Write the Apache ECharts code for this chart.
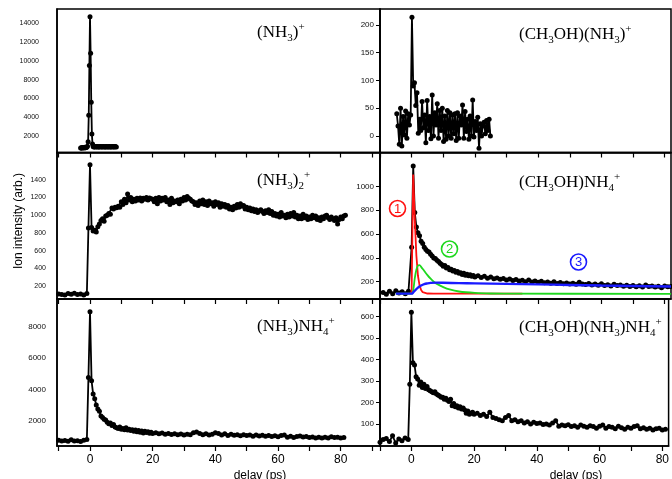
<!DOCTYPE html>
<html><head><meta charset="utf-8">
<script src="https://cdn.jsdelivr.net/npm/echarts@6/dist/echarts.min.js"></script>
<style>html,body{margin:0;padding:0;background:#fff}#c{width:672px;height:479px}</style>
</head><body><div id="c"></div>
<script>
// ---------- data: [delay (ps), ion signal] ----------
const nh3Plus = [[-3,720],[-2.8,760],[-2.6,700],[-2.4,780],[-2.2,740],[-2,770],[-1.8,730],[-1.6,790],[-1.4,760],[-1.2,780],[-1,820],[-0.8,900],[-0.6,1400],[-0.4,4200],[-0.2,9500],[0,14700],[0.2,10800],[0.4,5600],[0.6,2200],[0.8,1150],[1,880],[1.2,840],[1.4,860],[1.6,820],[1.8,870],[2,850],[2.2,830],[2.4,880],[2.6,840],[2.8,860],[3,820],[3.2,850],[3.4,870],[3.6,830],[3.8,860],[4,840],[4.2,880],[4.4,850],[4.6,820],[4.8,860],[5,840],[5.2,870],[5.4,830],[5.6,850],[5.8,860],[6,820],[6.2,870],[6.4,840],[6.6,860],[6.8,830],[7,850],[7.2,880],[7.4,840],[7.6,860],[7.8,830],[8,870],[8.2,850],[8.4,820]];

const ch3ohNh3Plus = [[-4.7,40],[-4.3,18],[-3.9,-15],[-3.5,50],[-3.1,-18],[-2.7,35],[-2.3,2],[-1.9,45],[-1.5,-4],[-1.1,40],[-0.7,20],[-0.3,38],[0.1,214],[0.5,90],[0.9,96],[1.3,55],[1.7,78],[2.1,5],[2.5,30],[2.9,10],[3.3,62],[3.7,15],[4.1,38],[4.5,-12],[4.9,64],[5.3,10],[5.7,35],[6.1,-5],[6.5,74],[6.9,0],[7.3,42],[7.7,20],[8.1,58],[8.5,-4],[8.9,46],[9.3,10],[9.7,50],[10.1,-10],[10.5,36],[10.9,-6],[11.3,46],[11.7,0],[12.1,42],[12.5,-4],[12.9,38],[13.3,4],[13.7,40],[14.1,-8],[14.5,42],[14.9,-4],[15.3,36],[15.7,20],[16.1,56],[16.5,-4],[16.9,44],[17.3,8],[17.7,30],[18.1,-6],[18.5,36],[18.9,0],[19.3,65],[19.7,-2],[20.1,26],[20.5,10],[20.9,34],[21.3,-22],[21.7,22],[22.1,0],[22.5,18],[22.9,25],[23.3,4],[23.7,28],[24.1,10],[24.5,30],[24.9,0]];

const nh3Dimer = [[-10,110],[-9,105],[-8,100],[-7,115],[-6,108],[-5,118],[-4,105],[-3,110],[-2,100],[-1,115],[-0.5,855],[0,1570],[0.5,860],[1,820],[1.5,830],[2,810],[2.5,870],[3,900],[3.5,940],[4,960],[4.5,930],[5,990],[5.5,1000],[6,1020],[6.5,1010],[7,1080],[7.5,1070],[8,1090],[8.5,1085],[9,1100],[9.5,1090],[10,1150],[10.5,1120],[11,1180],[11.5,1140],[12,1240],[12.5,1170],[13,1200],[13.5,1150],[14,1180],[14.5,1160],[15,1190],[15.5,1170],[16,1195],[16.5,1160],[17,1190],[17.5,1180],[18,1200],[18.5,1170],[19,1195],[19.5,1185],[20,1180],[20.5,1150],[21,1190],[21.5,1130],[22,1200],[22.5,1160],[23,1190],[23.5,1170],[24,1200],[24.5,1150],[25,1170],[25.5,1120],[26,1190],[26.5,1140],[27,1160],[27.5,1150],[28,1170],[28.5,1130],[29,1180],[29.5,1160],[30,1200],[30.5,1170],[31,1210],[31.5,1190],[32,1180],[32.5,1160],[33,1150],[33.5,1120],[34,1140],[34.5,1110],[35,1160],[35.5,1130],[36,1170],[36.5,1120],[37,1150],[37.5,1110],[38,1160],[38.5,1130],[39,1140],[39.5,1100],[40,1150],[40.5,1120],[41,1140],[41.5,1090],[42,1130],[42.5,1100],[43,1120],[43.5,1090],[44,1110],[44.5,1070],[45,1090],[45.5,1060],[46,1100],[46.5,1080],[47,1120],[47.5,1090],[48,1130],[48.5,1100],[49,1110],[49.5,1070],[50,1090],[50.5,1060],[51,1080],[51.5,1050],[52,1070],[52.5,1040],[53,1060],[53.5,1030],[54,1050],[54.5,1060],[55,1040],[55.5,1020],[56,1050],[56.5,1030],[57,1060],[57.5,1020],[58,1040],[58.5,1000],[59,1020],[59.5,990],[60,1010],[60.5,980],[61,1030],[61.5,990],[62,1000],[62.5,970],[63,1010],[63.5,980],[64,1020],[64.5,990],[65,1030],[65.5,980],[66,1000],[66.5,960],[67,990],[67.5,960],[68,1010],[68.5,970],[69,990],[69.5,950],[70,980],[70.5,960],[71,1000],[71.5,970],[72,990],[72.5,950],[73,970],[73.5,940],[74,980],[74.5,960],[75,990],[75.5,1000],[76,970],[76.5,950],[77,980],[77.5,960],[78,940],[78.5,970],[79,900],[79.5,950],[80,980],[80.5,960],[81,990],[81.5,1000]];

const ch3ohNh4 = [[-9,110],[-8,95],[-7,120],[-6,100],[-5,125],[-4,105],[-3,115],[-2,100],[-1,120],[0,490],[0.5,1170],[1,780],[1.5,660],[2,610],[2.5,585],[3,540],[3.5,520],[4,490],[4.5,470],[5,455],[5.5,450],[6,430],[6.5,415],[7,400],[7.5,395],[8,380],[8.5,370],[9,355],[9.5,345],[10,330],[10.5,335],[11,315],[11.5,320],[12,300],[12.5,305],[13,290],[13.5,295],[14,280],[14.5,285],[15,270],[15.5,275],[16,260],[16.5,270],[17,255],[17.5,262],[18,250],[18.5,258],[19,245],[19.5,252],[20,240],[21,250],[22,235],[23,245],[24,230],[25,240],[26,225],[27,232],[28,220],[29,228],[30,215],[31,222],[32,210],[33,218],[34,205],[35,212],[36,200],[37,215],[38,198],[39,205],[40,195],[41,203],[42,192],[43,198],[44,188],[45,200],[46,185],[47,193],[48,183],[49,190],[50,180],[51,188],[52,178],[53,195],[54,180],[55,176],[56,185],[57,172],[58,180],[59,170],[60,182],[61,168],[62,175],[63,165],[64,178],[65,168],[66,172],[67,162],[68,170],[69,160],[70,168],[71,158],[72,166],[73,156],[74,172],[75,160],[76,165],[77,155],[78,162],[79,150],[80,165],[81,158],[82,160]];
const fit1 = [[-0.3,100],[0,120],[0.5,1100],[1,720],[1.5,420],[2,250],[2.5,170],[3,130],[3.5,112],[4,105],[5,101],[7,100],[35,100]];
const fit2 = [[-5,100],[0,100],[0.5,130],[1,230],[1.5,300],[2,335],[2.5,340],[3,325],[4,290],[5,255],[6,225],[7,200],[8,182],[10,155],[12,135],[15,118],[20,106],[25,101],[30,100],[82,98]];
const fit3 = [[-5,100],[0,100],[0.5,110],[1,125],[2,150],[3,168],[4,180],[5,186],[6,190],[8,192],[10,191],[15,188],[20,186],[30,182],[40,178],[50,173],[60,168],[70,164],[82,160]];

const nh3Nh4 = [[-10,760],[-9,700],[-8,740],[-7,690],[-6,780],[-5,700],[-4,720],[-3,680],[-2,750],[-1,800],[-0.5,4750],[0,8950],[0.5,4550],[1,3700],[1.5,3400],[2,3000],[2.5,2750],[3,2600],[3.5,2300],[4,2200],[4.5,2100],[5,2050],[5.5,1900],[6,1800],[6.5,1850],[7,1700],[7.5,1750],[8,1600],[8.5,1550],[9,1500],[9.5,1600],[10,1450],[10.5,1500],[11,1420],[11.5,1550],[12,1400],[12.5,1450],[13,1380],[13.5,1420],[14,1330],[14.5,1400],[15,1300],[15.5,1380],[16,1260],[16.5,1340],[17,1220],[17.5,1320],[18,1250],[18.5,1300],[19,1200],[19.5,1260],[20,1180],[21,1230],[22,1160],[23,1210],[24,1140],[25,1190],[26,1120],[27,1170],[28,1100],[29,1150],[30,1080],[31,1140],[32,1100],[33,1230],[34,1280],[35,1180],[36,1100],[37,1160],[38,1080],[39,1130],[40,1230],[41,1180],[42,1090],[43,1160],[44,1060],[45,1130],[46,1070],[47,1110],[48,1040],[49,1110],[50,1060],[51,1080],[52,1010],[53,1080],[54,1030],[55,1070],[56,1000],[57,1050],[58,990],[59,1040],[60,980],[61,1060],[62,1090],[63,950],[64,1010],[65,930],[66,990],[67,1020],[68,960],[69,990],[70,920],[71,960],[72,900],[73,940],[74,890],[75,950],[76,900],[77,970],[78,920],[79,950],[80,890],[81,930]];

const ch3ohNh3Nh4 = [[-10,15],[-9,28],[-8,32],[-7,18],[-6,45],[-5,12],[-4,30],[-3,22],[-2,35],[-1,28],[-0.5,285],[0,620],[0.5,385],[1,375],[1.5,320],[2,310],[2.5,280],[3,295],[3.5,270],[4,285],[4.5,265],[5,275],[5.5,260],[6,255],[6.5,250],[7,245],[7.5,250],[8,240],[8.5,235],[9,230],[9.5,225],[10,225],[10.5,215],[11,220],[11.5,210],[12,205],[12.5,215],[13,185],[13.5,195],[14,180],[14.5,185],[15,175],[15.5,180],[16,170],[16.5,175],[17,165],[17.5,150],[18,160],[18.5,145],[19,150],[19.5,155],[20,145],[21,150],[22,140],[23,145],[24,135],[25,155],[26,130],[27,125],[28,120],[29,115],[30,130],[31,140],[32,115],[33,120],[34,110],[35,115],[36,105],[37,110],[38,100],[39,108],[40,102],[41,105],[42,98],[43,100],[44,95],[45,105],[46,115],[47,90],[48,95],[49,92],[50,96],[51,88],[52,92],[53,85],[54,95],[55,90],[56,85],[57,92],[58,88],[59,80],[60,90],[61,95],[62,80],[63,88],[64,85],[65,78],[66,90],[67,82],[68,75],[69,85],[70,80],[71,88],[72,92],[73,78],[74,82],[75,75],[76,80],[77,72],[78,78],[79,80],[80,72],[81,76]];

// ---------- tick labels ----------
const xTickLeft = [-10,0,10,20,30,40,50,60,70,80,90];
const xTickRight = [-10,0,10,20,30,40,50,60,70,80];
const xLabels = [0,20,40,60,80];
const yTicksTL = [2000,4000,6000,8000,10000,12000,14000];
const yTicksTR = [0,50,100,150,200];
const yTicksML = [200,400,600,800,1000,1200,1400];
const yTicksMR = [200,400,600,800,1000];
const yTicksBL = [2000,4000,6000,8000];
const yTicksBR = [100,200,300,400,500,600];

// ---------- layout ----------
const LCOL = {left:57, width:323}, RCOL = {left:380, width:291};
const ROWS = [{top:9,height:143.5},{top:152.5,height:146.5},{top:299,height:147}];
const grids = [];
for (let r=0;r<3;r++){ for (const c of [LCOL,RCOL]){
  grids.push({left:c.left, width:c.width, top:ROWS[r].top, height:ROWS[r].height,
    show:true, borderColor:'#000', borderWidth:1.5, backgroundColor:'transparent', containLabel:false});
}}

function xAxis(i, isLeft, showLabels){
  return {type:'value', gridIndex:i,
    min: isLeft ? -10.53 : -10, max: isLeft ? 92.53 : 82,
    axisLine:{show:true, onZero:false, lineStyle:{color:'#000', width:1.5}},
    axisTick:{show:true, inside:false, length:5, lineStyle:{color:'#000', width:1.2},
      customValues: isLeft ? xTickLeft : xTickRight},
    axisLabel:{show:showLabels, customValues:xLabels, margin:8, color:'#000',
      fontFamily:'Liberation Sans', fontSize:12, formatter:v=>String(v)},
    splitLine:{show:false}};
}
function yAxis(i, min, max, ticks, isLeft, fs, margin){
  return {type:'value', gridIndex:i, min:min, max:max,
    axisLine:{show:true, onZero:false, lineStyle:{color:'#000', width:1.5}},
    axisTick:{show:!isLeft, inside:false, length:4, lineStyle:{color:'#000', width:1}, customValues:ticks},
    axisLabel:{show:true, customValues:ticks, margin:margin, color:'#111',
      fontFamily:'Liberation Sans', fontSize:fs, formatter:v=>String(v)},
    splitLine:{show:false}};
}

const xAxes = [xAxis(0,true,false), xAxis(1,false,false), xAxis(2,true,false), xAxis(3,false,false), xAxis(4,true,true), xAxis(5,false,true)];
const yAxes = [
  yAxis(0, 243, 15523, yTicksTL, true, 7, 18),
  yAxis(1, -29.7, 228.8, yTicksTR, false, 8, 6),
  yAxis(2, 54, 1707, yTicksML, true, 7, 11),
  yAxis(3, 55, 1284, yTicksMR, false, 8, 6),
  yAxis(4, 385, 9768, yTicksBL, true, 8, 11),
  yAxis(5, -2.5, 682, yTicksBR, false, 8, 6)
];

function dots(idx, data){
  return {type:'line', xAxisIndex:idx, yAxisIndex:idx, data:data, symbol:'circle', symbolSize:5,
    showSymbol:true, lineStyle:{color:'#000', width:1.8}, itemStyle:{color:'#000'}, z:2, clip:true};
}
function fit(idx, data, color, smooth, z, w){
  return {type:'line', xAxisIndex:idx, yAxisIndex:idx, data:data, showSymbol:false, symbol:'none',
    smooth:smooth, lineStyle:{color:color, width:w}, z:z, clip:true};
}

const series = [
  dots(0, nh3Plus),
  dots(1, ch3ohNh3Plus),
  dots(2, nh3Dimer),
  dots(3, ch3ohNh4),
  fit(3, fit1, '#ff1010', false, 3, 1.8),
  fit(3, fit2, '#1ed81e', 0.35, 4, 1.8),
  fit(3, fit3, '#1a1aff', 0.35, 5, 2.4),
  dots(4, nh3Nh4),
  dots(5, ch3ohNh3Nh4)
];

const serif = 'Liberation Serif, Times New Roman, serif';
const rich = {
  n:{fontFamily:serif, fontSize:17, lineHeight:22, fill:'#000', color:'#000'},
  s:{fontFamily:serif, fontSize:11, lineHeight:12, verticalAlign:'bottom', fill:'#000', color:'#000'},
  p:{fontFamily:serif, fontSize:11, lineHeight:12, verticalAlign:'top', fill:'#000', color:'#000'}
};
function title(x, y, txt){
  return {type:'text', x:x, y:y, z:100, style:{text:txt, rich:rich, fill:'#000', textVerticalAlign:'middle', verticalAlign:'middle', align:'left', font:'17px '+serif}};
}
function circ(cx, cy, num, color){
  return {type:'group', z:100, children:[
    {type:'circle', shape:{cx:cx, cy:cy, r:8}, style:{fill:'#fff', stroke:color, lineWidth:1.6}},
    {type:'text', x:cx, y:cy+0.5, style:{text:num, fill:color, font:'13px Liberation Sans', align:'center', verticalAlign:'middle'}}
  ]};
}

const graphic = [
  title(257, 33, '{n|(NH}{s|3}{n|)}{p|+}'),
  title(519, 35, '{n|(CH}{s|3}{n|OH)(NH}{s|3}{n|)}{p|+}'),
  title(257, 181, '{n|(NH}{s|3}{n|)}{s|2}{p|+}'),
  title(519, 183, '{n|(CH}{s|3}{n|OH)NH}{s|4}{p|+}'),
  title(257, 327, '{n|(NH}{s|3}{n|)NH}{s|4}{p|+}'),
  title(519, 328, '{n|(CH}{s|3}{n|OH)(NH}{s|3}{n|)NH}{s|4}{p|+}'),
  {type:'text', x:19, y:221, rotation:Math.PI/2, z:100,
    style:{text:'Ion intensity (arb.)', fill:'#000', font:'12px Liberation Sans', align:'center', verticalAlign:'middle'}},
  {type:'text', x:260, y:476, z:100, style:{text:'delay (ps)', fill:'#000', font:'12px Liberation Sans', align:'center', verticalAlign:'middle'}},
  {type:'text', x:576, y:476, z:100, style:{text:'delay (ps)', fill:'#000', font:'12px Liberation Sans', align:'center', verticalAlign:'middle'}},
  circ(397.5, 208.5, '1', '#ff1010'),
  circ(449.5, 249, '2', '#1ed81e'),
  circ(578.5, 262, '3', '#1a1aff')
];

const chart = echarts.init(document.getElementById('c'), null, {renderer:'canvas'});
chart.setOption({animation:false, backgroundColor:'#fff', grid:grids, xAxis:xAxes, yAxis:yAxes, series:series, graphic:graphic});
</script></body></html>
